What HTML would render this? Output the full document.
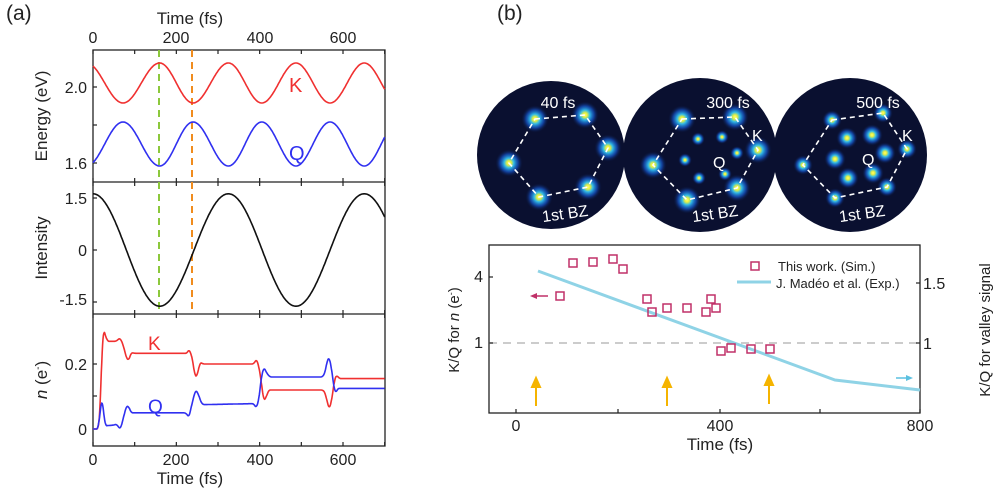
<!DOCTYPE html>
<html><head><meta charset="utf-8"><style>
html,body{margin:0;padding:0;background:#fff;}
svg{display:block;font-family:"Liberation Sans",Arial,sans-serif;}
</style></head><body>
<svg id="s" width="1000" height="488" viewBox="0 0 1000 488" xmlns="http://www.w3.org/2000/svg">
<defs>
<radialGradient id="spot">
<stop offset="0" stop-color="#ffff70"/><stop offset="0.15" stop-color="#e8f040"/><stop offset="0.35" stop-color="#30b8e8"/><stop offset="0.65" stop-color="#1450c0" stop-opacity="0.75"/><stop offset="1" stop-color="#0a1030" stop-opacity="0"/>
</radialGradient>
</defs>
<g id="stat" font-size="16" fill="#222">
<text x="6" y="20" font-size="21">(a)</text>
<text x="497" y="20" font-size="21">(b)</text>
<text x="190" y="24" text-anchor="middle" font-size="17">Time (fs)</text>
<text x="93" y="43" text-anchor="middle">0</text><text x="176" y="43" text-anchor="middle">200</text><text x="260" y="43" text-anchor="middle">400</text><text x="343" y="43" text-anchor="middle">600</text>
<text x="93" y="465" text-anchor="middle">0</text><text x="176" y="465" text-anchor="middle">200</text><text x="260" y="465" text-anchor="middle">400</text><text x="343" y="465" text-anchor="middle">600</text>
<text x="190" y="484" text-anchor="middle" font-size="17">Time (fs)</text>
<text x="87" y="93" text-anchor="end">2.0</text><text x="87" y="169" text-anchor="end">1.6</text>
<text x="87" y="204" text-anchor="end">1.5</text><text x="87" y="256" text-anchor="end">0</text><text x="87" y="305" text-anchor="end">-1.5</text>
<text x="87" y="370" text-anchor="end">0.2</text><text x="87" y="435" text-anchor="end">0</text>
<text transform="translate(47,116) rotate(-90)" text-anchor="middle" font-size="17">Energy (eV)</text>
<text transform="translate(47,248) rotate(-90)" text-anchor="middle" font-size="17">Intensity</text>
<text transform="translate(47,380) rotate(-90)" text-anchor="middle" font-size="17"><tspan font-style="italic">n</tspan> (e<tspan font-size="10" dy="-6">-</tspan><tspan dy="6">)</tspan></text>
<text x="289" y="92" fill="#f03030" font-size="20">K</text>
<text x="289" y="160" fill="#3030f0" font-size="20">Q</text>
<text x="148" y="350" fill="#f03030" font-size="19">K</text>
<text x="148" y="413" fill="#3030f0" font-size="19">Q</text>
</g>
<g id="axA" fill="none" stroke="#222" stroke-width="1.3">
<rect x="93" y="50" width="292" height="396"/>
<line x1="93" y1="182" x2="385" y2="182"/><line x1="93" y1="314" x2="385" y2="314"/>
</g>
<line x1="159" y1="50" x2="159" y2="314" stroke="#8cc83c" stroke-width="2" stroke-dasharray="7,5"/>
<line x1="192" y1="50" x2="192" y2="314" stroke="#f08c1e" stroke-width="2" stroke-dasharray="7,5"/>
<circle cx="551" cy="155" r="74" fill="#0a1030"/>
<circle cx="700" cy="155" r="77" fill="#0a1030"/>
<circle cx="850" cy="155" r="77" fill="#0a1030"/>
<g id="spots"></g>
<g fill="none" stroke="#fff" stroke-width="1.6" stroke-dasharray="5,4">
<polygon points="535,119 585,115 608,148 588,187 539,197 509,163"/>
<polygon points="682,119 735,117 758,150 737,188 687,200 653,165"/>
<polygon points="832,120 883,113 907,149 887,187 835,198 803,165"/>
</g>
<g fill="#fff" font-size="16">
<text x="558" y="108" text-anchor="middle">40 fs</text>
<text x="728" y="108" text-anchor="middle">300 fs</text>
<text x="878" y="108" text-anchor="middle">500 fs</text>
<text x="565" y="219" text-anchor="middle" transform="rotate(-8 565 213)">1st BZ</text>
<text x="715" y="219" text-anchor="middle" transform="rotate(-8 715 213)">1st BZ</text>
<text x="862" y="219" text-anchor="middle" transform="rotate(-8 862 213)">1st BZ</text>
<text x="752" y="141">K</text><text x="902" y="141">K</text>
<text x="713" y="168">Q</text><text x="862" y="165">Q</text>
</g>
<rect x="489" y="245" width="431" height="168" fill="none" stroke="#222" stroke-width="1.3"/>
<line x1="489" y1="343" x2="920" y2="343" stroke="#bbb" stroke-width="1.5" stroke-dasharray="8,6"/>
<polyline points="538,271 835,380 920,390" fill="none" stroke="#8fd3e6" stroke-width="3"/>
<g id="sq" fill="none" stroke="#c03068" stroke-width="1.5"></g>
<line x1="535" y1="296" x2="548" y2="296" stroke="#c03068" stroke-width="1.5"/><polygon points="530,296 537,293 537,299" fill="#c03068"/>
<line x1="896" y1="378" x2="908" y2="378" stroke="#5bc0e0" stroke-width="1.5"/><polygon points="913,378 906,375 906,381" fill="#5bc0e0"/>
<g stroke="#f5b400" stroke-width="2" fill="#f5b400">
<line x1="536" y1="406" x2="536" y2="385"/><polygon points="536,378 532,387 540,387"/>
<line x1="667" y1="406" x2="667" y2="385"/><polygon points="667,378 663,387 671,387"/>
<line x1="769" y1="404" x2="769" y2="383"/><polygon points="769,376 765,385 773,385"/>
</g>
<rect x="751" y="262" width="8" height="8" fill="none" stroke="#c03068" stroke-width="1.5"/>
<line x1="737" y1="282" x2="771" y2="282" stroke="#8fd3e6" stroke-width="3"/>
<g font-size="13" fill="#222">
<text x="778" y="271">This work. (Sim.)</text>
<text x="776" y="288">J. Madéo et al. (Exp.)</text>
</g>
<g font-size="16" fill="#222">
<text x="483" y="282" text-anchor="end">4</text><text x="483" y="348" text-anchor="end">1</text>
<text x="923" y="289">1.5</text><text x="923" y="349">1</text>
<text x="516" y="431" text-anchor="middle">0</text><text x="720" y="431" text-anchor="middle">400</text><text x="920" y="431" text-anchor="middle">800</text>
<text x="720" y="450" text-anchor="middle" font-size="17">Time (fs)</text>
<text transform="translate(459,330) rotate(-90)" text-anchor="middle" font-size="15">K/Q for <tspan font-style="italic">n</tspan> (e<tspan font-size="9" dy="-5">-</tspan><tspan dy="5">)</tspan></text>
<text transform="translate(990,330) rotate(-90)" text-anchor="middle" font-size="15">K/Q for valley signal</text>
</g>
<g id="ticks" stroke="#222" stroke-width="1.2"></g>
<g id="curves" fill="none" stroke-width="1.6"></g>
</svg>
<script>
var NS="http://www.w3.org/2000/svg";
function el(p,tag,a){var e=document.createElementNS(NS,tag);for(var k in a)e.setAttribute(k,a[k]);document.getElementById(p).appendChild(e);return e;}
function tx(t){return 93+t*0.41667;}
var pk=[[0,-1.82],[72,-1],[160,0],[240,1],[325,2],[405,3],[487,4],[569,5],[651,6],[700,6.6]];
function interp(arr,t){for(var i=0;i<arr.length-1;i++){if(t<=arr[i+1][0]){var a=arr[i],b=arr[i+1];return a[1]+(b[1]-a[1])*(t-a[0])/(b[0]-a[0]);}}return arr[arr.length-1][1];}
function sm(arr,t){var s=0,n=0;for(var d=-3;d<=3;d++){s+=interp(arr,Math.max(0,Math.min(700,t+d)));n++;}return s/n;}
var K=[],Q=[],I=[];
for(var t=0;t<=700;t+=2){var ph=interp(pk,t)*Math.PI;K.push(tx(t).toFixed(1)+","+(83-20*Math.cos(ph)).toFixed(1));Q.push(tx(t).toFixed(1)+","+(144+22*Math.cos(ph)).toFixed(1));
var ps=[[0,0],[160,1],[325,2],[487,3],[651,4],[700,4.3]];var p2=interp(ps,t)*Math.PI;I.push(tx(t).toFixed(1)+","+(250-34.7*1.62*Math.cos(p2)).toFixed(1));}
el("curves","polyline",{points:K.join(" "),stroke:"#f03030"});
el("curves","polyline",{points:Q.join(" "),stroke:"#3030f0"});
el("curves","polyline",{points:I.join(" "),stroke:"#111"});
var nK=[[0,0],[12,0],[16,0.03],[22,0.25],[25,0.31],[29,0.29],[35,0.27],[55,0.27],[65,0.28],[72,0.26],[80,0.22],[85,0.21],[92,0.235],[100,0.233],[225,0.233],[231,0.245],[238,0.22],[245,0.16],[250,0.165],[257,0.205],[265,0.2],[385,0.2],[393,0.215],[400,0.18],[410,0.085],[416,0.1],[422,0.12],[550,0.12],[556,0.115],[563,0.08],[567,0.06],[573,0.09],[580,0.155],[585,0.165],[592,0.155],[700,0.155]];
var nQ=[[0,0],[12,0],[18,0.06],[22,0.1],[26,0.04],[30,0.01],[50,0.012],[56,0.015],[62,0.005],[66,0],[72,0.03],[80,0.07],[85,0.07],[92,0.05],[98,0.05],[220,0.05],[226,0.045],[230,0.035],[238,0.08],[246,0.12],[252,0.11],[260,0.08],[265,0.075],[385,0.078],[392,0.065],[398,0.09],[404,0.16],[410,0.19],[418,0.17],[425,0.16],[550,0.16],[556,0.17],[563,0.215],[567,0.22],[572,0.19],[578,0.13],[582,0.11],[588,0.125],[700,0.125]];
function npts(a){var r=[];for(var t=0;t<=700;t+=1){r.push(tx(t).toFixed(1)+","+(429-sm(a,t)*325).toFixed(1));}return r.join(" ");}
el("curves","polyline",{points:npts(nK),stroke:"#f03030"});
el("curves","polyline",{points:npts(nQ),stroke:"#3030f0"});
for(var t=0;t<=700;t+=100){var x=tx(t);[[50,1],[182,-1],[182,1],[314,-1],[314,1],[446,-1]].forEach(function(p){el("ticks","line",{x1:x,x2:x,y1:p[0],y2:p[0]+4*p[1]});});}
[87,163,125,198,250,302,364,429,396].forEach(function(y){el("ticks","line",{x1:93,x2:97,y1:y,y2:y});});
[516,618,720,820,920].forEach(function(x){el("ticks","line",{x1:x,x2:x,y1:413,y2:409});});
[277,343].forEach(function(y){el("ticks","line",{x1:489,x2:493,y1:y,y2:y});});
[283,343].forEach(function(y){el("ticks","line",{x1:920,x2:916,y1:y,y2:y});});
[[560,296],[573,263],[593,262],[613,259],[623,269],[647,299],[652,312],[667,308],[687,308],[706,312],[711,299],[716,308],[721,351],[731,348],[751,349],[770,349]].forEach(function(p){el("sq","rect",{x:p[0]-4,y:p[1]-4,width:8,height:8});});
[[535,119],[585,115],[608,148],[588,187],[539,197],[509,163],[682,119],[735,117],[758,150],[737,188],[687,200],[653,165]].forEach(function(p){el("spots","circle",{cx:p[0],cy:p[1],r:14,fill:"url(#spot)"});});
[[832,120],[883,113],[907,149],[887,187],[835,198],[803,165]].forEach(function(p){el("spots","circle",{cx:p[0],cy:p[1],r:10,fill:"url(#spot)"});});
[[698,139],[722,137],[737,153],[725,174],[699,178],[685,160]].forEach(function(p){el("spots","circle",{cx:p[0],cy:p[1],r:7,fill:"url(#spot)"});});
[[847,138],[872,135],[885,153],[873,173],[848,178],[835,159]].forEach(function(p){el("spots","circle",{cx:p[0],cy:p[1],r:11,fill:"url(#spot)"});});
</script>
</body></html>
